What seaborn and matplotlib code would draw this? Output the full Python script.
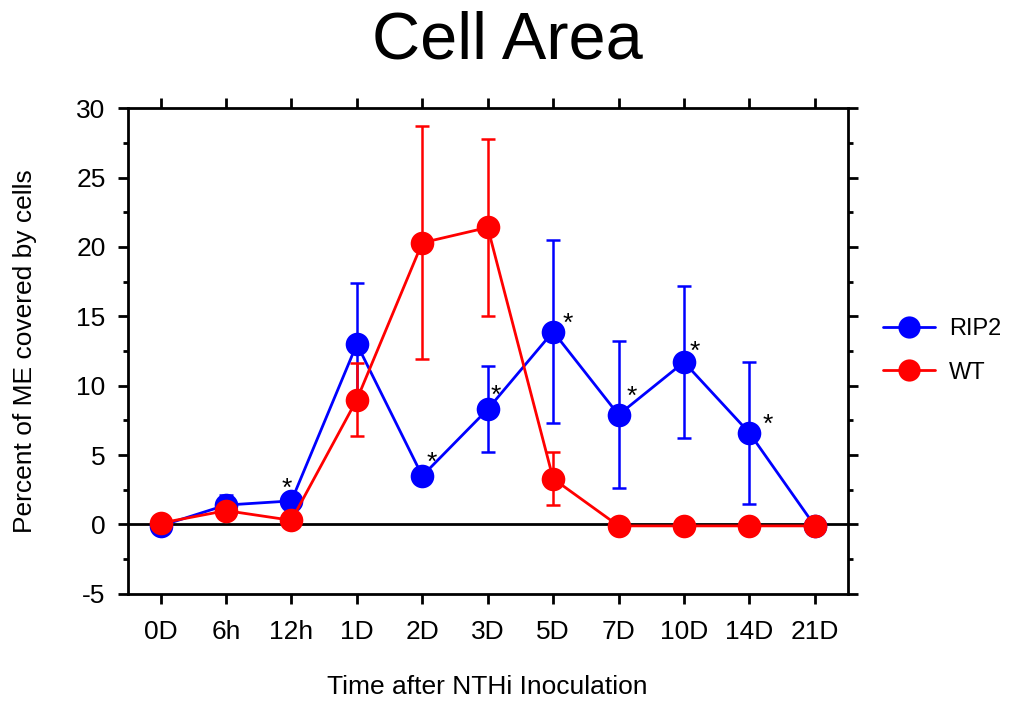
import numpy as np
import pandas as pd
import matplotlib
matplotlib.use("Agg")
import matplotlib.pyplot as plt
import seaborn as sns
from matplotlib.ticker import MultipleLocator

# Data
times = ["0D", "6h", "12h", "1D", "2D", "3D", "5D", "7D", "10D", "14D", "21D"]
rip2_mean = [-0.1, 1.4, 1.7, 13.0, 3.5, 8.3, 13.9, 7.9, 11.7, 6.6, -0.1]
rip2_err = [0.0, 0.7, 0.0, 4.4, 0.5, 3.1, 6.6, 5.3, 5.5, 5.1, 0.0]
wt_mean = [0.1, 1.0, 0.3, 9.0, 20.3, 21.4, 3.3, -0.1, -0.1, -0.1, -0.1]
wt_err = [0.0, 0.3, 0.0, 2.6, 8.4, 6.4, 1.9, 0.0, 0.0, 0.0, 0.0]
# points marked significant (RIP2)
stars = ["12h", "2D", "3D", "5D", "7D", "10D", "14D"]
# where each star sits relative to its point, in pixels (right, up)
star_offset = {"12h": (-5, 20), "2D": (9, 21), "3D": (8, 21), "5D": (15, 16),
               "7D": (13, 26), "10D": (11, 18), "14D": (18, 16)}

pos = np.arange(len(times))
df = pd.DataFrame({
    "pos": np.concatenate([pos, pos]),
    "value": rip2_mean + wt_mean,
    "group": ["RIP2"] * len(times) + ["WT"] * len(times),
})

sns.set_theme(style="white")
plt.rcParams["font.family"] = ["Liberation Sans", "DejaVu Sans"]
plt.rcParams["axes.unicode_minus"] = False
for k in ["text.color", "axes.labelcolor", "xtick.color", "ytick.color", "axes.edgecolor"]:
    plt.rcParams[k] = "black"

fig = plt.figure(figsize=(10.15, 7.02), dpi=100)
ax = fig.add_axes([0.126, 0.154, 0.709, 0.692])

ax.axhline(0, color="black", lw=2, zorder=1)

palette = {"RIP2": "#0000ff", "WT": "#ff0000"}
ax.errorbar(pos, rip2_mean, yerr=rip2_err, fmt="none", ecolor="#0000ff",
            elinewidth=1.8, capsize=5, capthick=1.8, zorder=2)
ax.errorbar(pos, wt_mean, yerr=wt_err, fmt="none", ecolor="#ff0000",
            elinewidth=1.8, capsize=5, capthick=1.8, zorder=3)
sns.lineplot(data=df, x="pos", y="value", hue="group", palette=palette,
             marker="o", markersize=17, markeredgewidth=0, linewidth=2,
             ax=ax, zorder=4)

for t in stars:
    i = times.index(t)
    dx, dy = star_offset[t]
    ax.annotate("*", (i, rip2_mean[i]), xytext=(dx * 0.72, (dy - 15) * 0.72),
                textcoords="offset points", ha="center", va="baseline",
                fontsize=19, color="black")

ax.set_xlim(-0.5, 10.5)
ax.set_ylim(-5, 30)
ax.set_xticks(pos)
ax.set_xticklabels(times)
ax.yaxis.set_major_locator(MultipleLocator(5))
ax.yaxis.set_minor_locator(MultipleLocator(2.5))
ax.tick_params(axis="both", which="major", direction="out", length=7, width=2,
               labelsize=19, top=True, right=True, bottom=True, left=True)
ax.tick_params(axis="x", which="major", pad=12)
ax.tick_params(axis="y", which="major", pad=9)
ax.tick_params(axis="y", which="minor", direction="out", length=3.5, width=2,
               left=True, right=True)
for s in ax.spines.values():
    s.set_linewidth(2)

ax.set_xlabel("Time after NTHi Inoculation", fontsize=19, labelpad=22)
ax.set_ylabel("Percent of ME covered by cells", fontsize=19, labelpad=28)
fig.suptitle("Cell Area", fontsize=48, y=0.985)

leg = ax.legend(title=None, frameon=False, loc="center left",
                bbox_to_anchor=(1.02, 0.5), fontsize=17, handlelength=2.2,
                labelspacing=0.9, handletextpad=0.6)
for h in leg.legend_handles:
    h.set_markersize(16)

fig.savefig("out.png", dpi=100)
